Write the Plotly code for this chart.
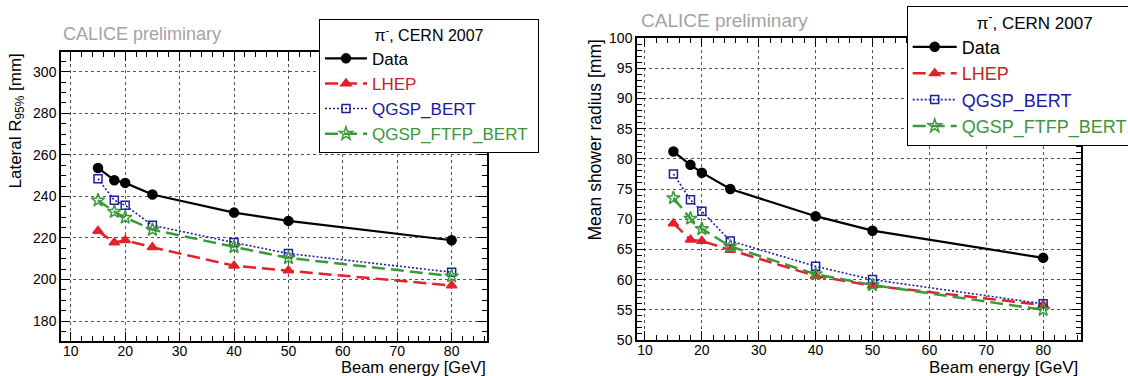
import plotly.graph_objects as go

# ---------------- data ----------------
energies = [15, 18, 20, 25, 40, 50, 80]

# Left panel: Lateral R95% [mm]
r95_data = [253.7, 247.8, 246.5, 240.9, 232.2, 228.2, 218.9]
r95_lhep = [223.4, 217.8, 218.9, 215.5, 206.6, 204.3, 197.1]
r95_qgsp_bert = [248.5, 238.1, 235.7, 226.1, 217.8, 212.5, 203.5]
r95_qgsp_ftfp_bert = [238.1, 232.6, 229.8, 224.0, 215.7, 210.4, 201.6]

# Right panel: Mean shower radius [mm]
rm_data = [81.2, 79.0, 77.7, 75.0, 70.5, 68.1, 63.6]
rm_lhep = [69.3, 66.6, 66.4, 64.9, 60.6, 59.0, 55.8]
rm_qgsp_bert = [77.5, 73.2, 71.3, 66.4, 62.2, 60.0, 56.0]
rm_qgsp_ftfp_bert = [73.5, 70.1, 68.4, 65.5, 60.9, 59.1, 55.0]

series_names = ["Data", "LHEP", "QGSP_BERT", "QGSP_FTFP_BERT"]
legend_title = "π<sup>-</sup>, CERN 2007"
watermark = "CALICE preliminary"
x_title = "Beam energy [GeV]"
y_title_left = "Lateral R<sub>95%</sub> [mm]"
y_title_right = "Mean shower radius [mm]"

# ---------------- styles ----------------
BLACK = "#000000"
RED = "#e3202b"
BLUE = "#1f1f9c"
GREEN = "#3a9a3a"
TXT_RED = "#c8202c"
TXT_BLUE = "#1a1aa8"
TXT_GREEN = "#3c963c"

styles = [
    dict(color=BLACK, dash="solid", width=2.2, symbol="circle", msize=9, txt=BLACK),
    dict(color=RED, dash="13px,6px", width=2.5, symbol="triangle-up", msize=9, txt=TXT_RED),
    dict(color=BLUE, dash="2px,2px", width=1.6, symbol="square-open", msize=8, txt=TXT_BLUE),
    dict(color=GREEN, dash="13px,6px", width=2.5, symbol="star-open", msize=10, txt=TXT_GREEN),
]

W, H = 1128, 376
FONT = "Liberation Sans, Arial, Helvetica, sans-serif"

fig = go.Figure()

left_series = [r95_data, r95_lhep, r95_qgsp_bert, r95_qgsp_ftfp_bert]
right_series = [rm_data, rm_lhep, rm_qgsp_bert, rm_qgsp_ftfp_bert]

for series, xa, ya, lg, pad in [
    (left_series, "x", "y", "legend", "&nbsp;"),
    (right_series, "x2", "y2", "legend2", "&nbsp;&nbsp;&nbsp;&nbsp;&nbsp;&nbsp;"),
]:
    for name, vals, st in zip(series_names, series, styles):
        fig.add_trace(go.Scatter(
            x=energies, y=vals, xaxis=xa, yaxis=ya, legend=lg,
            mode="lines+markers",
            name=f"<span style='color:{st['txt']}'>{name}</span>{pad}",
            line=dict(color=st["color"], dash=st["dash"], width=st["width"]),
            marker=dict(symbol=st["symbol"], size=st["msize"], color=st["color"],
                        line=dict(color=st["color"], width=1.5)),
            showlegend=True,
        ))

def xaxis_cfg(domain, rng, anchor):
    return dict(
        domain=domain, range=rng, showline=True, linecolor="black", linewidth=1.5,
        mirror="allticks", ticks="inside", ticklen=9, tickwidth=1, tickcolor="black",
        dtick=10, tick0=0, showgrid=True, gridcolor="#555555", gridwidth=1, griddash="dot",
        zeroline=False, tickfont=dict(family=FONT, size=14, color="black"),
        ticklabelstandoff=-4,
        minor=dict(dtick=2, ticks="inside", ticklen=5, tickcolor="black", showgrid=False),
        anchor=anchor,
    )

def yaxis_cfg(domain, rng, dtick, mdtick, anchor):
    return dict(
        domain=domain, range=rng, showline=True, linecolor="black", linewidth=1.5,
        mirror="allticks", ticks="inside", ticklen=9, tickwidth=1, tickcolor="black",
        dtick=dtick, tick0=0, showgrid=True, gridcolor="#555555", gridwidth=1, griddash="dot",
        zeroline=False, tickfont=dict(family=FONT, size=14, color="black"),
        minor=dict(dtick=mdtick, ticks="inside", ticklen=5, tickcolor="black", showgrid=False),
        anchor=anchor,
    )

lx0, lx1 = 61 / W, 487 / W
ly0, ly1 = 1 - 341 / H, 1 - 52 / H
rx0, rx1 = 637 / W, 1080.7 / W
ry0, ry1 = 1 - 340 / H, 1 - 38 / H

fig.update_layout(
    width=W, height=H,
    margin=dict(l=0, r=0, t=0, b=0, autoexpand=False),
    paper_bgcolor="white", plot_bgcolor="white",
    font=dict(family=FONT, color="black"),
    xaxis=xaxis_cfg([lx0, lx1], [8.2, 86.5], "y"),
    yaxis=yaxis_cfg([ly0, ly1], [170.4, 309.5], 20, 5, "x"),
    xaxis2=xaxis_cfg([rx0, rx1], [8.6, 86.6], "y2"),
    yaxis2=yaxis_cfg([ry0, ry1], [50, 100], 5, 1, "x2"),
    legend=dict(
        x=319 / W, y=1 - 19 / H, xanchor="left", yanchor="top",
        bgcolor="white", bordercolor="black", borderwidth=1,
        font=dict(family=FONT, size=17, color="black"),
        title=dict(text=legend_title, side="top center", font=dict(family=FONT, size=16)),
        itemwidth=42, tracegroupgap=0,
    ),
    legend2=dict(
        x=906.7 / W, y=1 - 5.5 / H, xanchor="left", yanchor="top",
        bgcolor="white", bordercolor="black", borderwidth=1,
        font=dict(family=FONT, size=18, color="black"),
        title=dict(text=legend_title, side="top center", font=dict(family=FONT, size=17)),
        itemwidth=44, tracegroupgap=0,
    ),
)

ann = []
ann.append(dict(text=watermark, xref="paper", yref="paper", x=61 / W, y=1 - 34 / H,
                xanchor="left", yanchor="middle", showarrow=False,
                font=dict(family=FONT, size=18, color="#a3a3a3")))
ann.append(dict(text=watermark, xref="paper", yref="paper", x=639 / W, y=1 - 20 / H,
                xanchor="left", yanchor="middle", showarrow=False,
                font=dict(family=FONT, size=19, color="#a3a3a3")))
ann.append(dict(text=x_title, xref="paper", yref="paper", x=488 / W, y=1 - 367 / H,
                xanchor="right", yanchor="middle", showarrow=False,
                font=dict(family=FONT, size=16.5, color="black")))
ann.append(dict(text=x_title, xref="paper", yref="paper", x=1080 / W, y=1 - 367 / H,
                xanchor="right", yanchor="middle", showarrow=False,
                font=dict(family=FONT, size=17, color="black")))
ann.append(dict(text=y_title_left, xref="paper", yref="paper", x=16 / W, y=1 - 52 / H,
                xanchor="center", yanchor="top", textangle=-90, showarrow=False,
                font=dict(family=FONT, size=17, color="black")))
ann.append(dict(text=y_title_right, xref="paper", yref="paper", x=594 / W, y=1 - 38 / H,
                xanchor="center", yanchor="top", textangle=-90, showarrow=False,
                font=dict(family=FONT, size=17.5, color="black")))
fig.update_layout(annotations=ann)

fig.write_html("out.html")
